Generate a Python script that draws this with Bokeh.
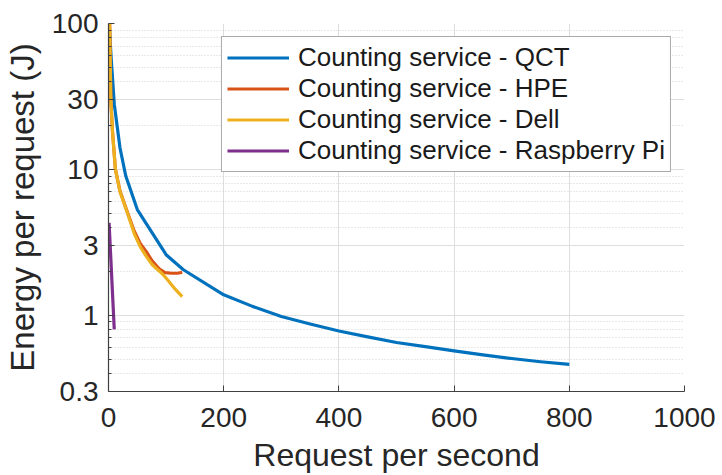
from bokeh.plotting import figure
from bokeh.models import Range1d, FixedTicker, Legend, LegendItem
from bokeh.embed import file_html
from bokeh.resources import INLINE

# ---- data ----
qct_x = [1, 5, 10, 20, 30, 50, 100, 130, 200, 250, 300, 350, 400, 450, 500,
         550, 600, 650, 700, 750, 800]
qct_y = [100, 55, 28, 14, 9.0, 5.3, 2.6, 2.05, 1.38, 1.15, 0.98, 0.87, 0.78, 0.71, 0.65,
         0.61, 0.57, 0.535, 0.505, 0.48, 0.46]

hpe_x = [2, 4, 7, 12, 20, 33, 45, 55, 65, 76, 88, 98, 110, 120, 128]
hpe_y = [100, 30, 18, 10, 7.1, 5.05, 3.75, 3.1, 2.75, 2.35, 2.08, 1.96, 1.94, 1.94, 1.97]

dell_x = [2, 4, 7, 12, 20, 33, 45, 55, 65, 76, 90, 100, 115, 128]
dell_y = [100, 30, 18, 10, 7.0, 5.0, 3.6, 2.95, 2.55, 2.22, 1.98, 1.8, 1.52, 1.34]

rpi_x = [1, 10]
rpi_y = [4.3, 0.8]

series_labels = ["Counting service - QCT", "Counting service - HPE",
                 "Counting service - Dell", "Counting service - Raspberry Pi"]
series_colors = ["#0072BD", "#D95319", "#EDB120", "#7E2F8E"]

x_ticks = [0, 200, 400, 600, 800, 1000]
y_ticks = [0.3, 1, 3, 10, 30, 100]
y_tick_labels = ["0.3", "1", "3", "10", "30", "100"]
y_minor = [0.4, 0.5, 0.6, 0.7, 0.8, 0.9, 2, 4, 5, 6, 7, 8, 9, 20, 40, 50, 60, 70, 80, 90]

FONT = "Liberation Sans"
AX = "#404040"

p = figure(width=722, height=475, output_backend="svg", toolbar_location=None,
           y_axis_type="log", x_range=Range1d(0, 1000), y_range=Range1d(0.3, 100),
           min_border_left=106, min_border_right=38, min_border_top=23, min_border_bottom=83)
p.outline_line_color = None
p.background_fill_color = "white"
p.border_fill_color = "white"

renderers = []
for xs, ys, c in zip([qct_x, hpe_x, dell_x, rpi_x], [qct_y, hpe_y, dell_y, rpi_y], series_colors):
    r = p.line(xs, ys, line_color=c, line_width=3.2, line_join="round")
    renderers.append(r)

# axes
p.xaxis.ticker = FixedTicker(ticks=x_ticks)
p.yaxis.ticker = FixedTicker(ticks=y_ticks, minor_ticks=y_minor)
p.yaxis.major_label_overrides = {t: l for t, l in zip(y_ticks, y_tick_labels)}

for ax in (p.xaxis[0], p.yaxis[0]):
    ax.axis_line_color = AX
    ax.axis_line_width = 1.2
    ax.major_tick_line_color = AX
    ax.minor_tick_line_color = AX
    ax.major_tick_in = 6
    ax.major_tick_out = 0
    ax.minor_tick_in = 3
    ax.minor_tick_out = 0
    ax.major_label_text_font = FONT
    ax.major_label_text_font_size = "28px"
    ax.major_label_text_color = "#262626"
    ax.axis_label_text_font = FONT
    ax.axis_label_text_font_style = "normal"
    ax.axis_label_text_color = "#262626"

p.xaxis.axis_label_text_font_size = "32px"
p.yaxis.axis_label_text_font_size = "33px"
p.xaxis.minor_tick_in = 0
p.xaxis.axis_label = "Request per second"
p.yaxis.axis_label = "Energy per request (J)"
p.xaxis.major_label_standoff = 16
p.yaxis.major_label_standoff = 10
p.xaxis.axis_label_standoff = 7
p.yaxis.axis_label_standoff = 8

# grid
p.xgrid.grid_line_color = "#dedede"
p.ygrid.grid_line_color = "#dedede"
p.xgrid.grid_line_width = 1
p.ygrid.grid_line_width = 1
p.ygrid.minor_grid_line_color = "#d2d2d2"
p.ygrid.minor_grid_line_dash = "1 2"
p.ygrid.minor_grid_line_width = 1

# legend
items = [LegendItem(label=l, renderers=[r]) for l, r in zip(series_labels, renderers)]
legend = Legend(items=items, location="top_right", margin=13, padding=5, spacing=0,
                glyph_width=62, glyph_height=31, label_height=31, label_standoff=9,
                label_text_font=FONT, label_text_font_size="26px", label_text_color="#1a1a1a",
                border_line_color="#555555", border_line_width=1.2,
                background_fill_color="white", background_fill_alpha=1)
p.add_layout(legend, "center")

open("out.html", "w").write(file_html(p, INLINE))
